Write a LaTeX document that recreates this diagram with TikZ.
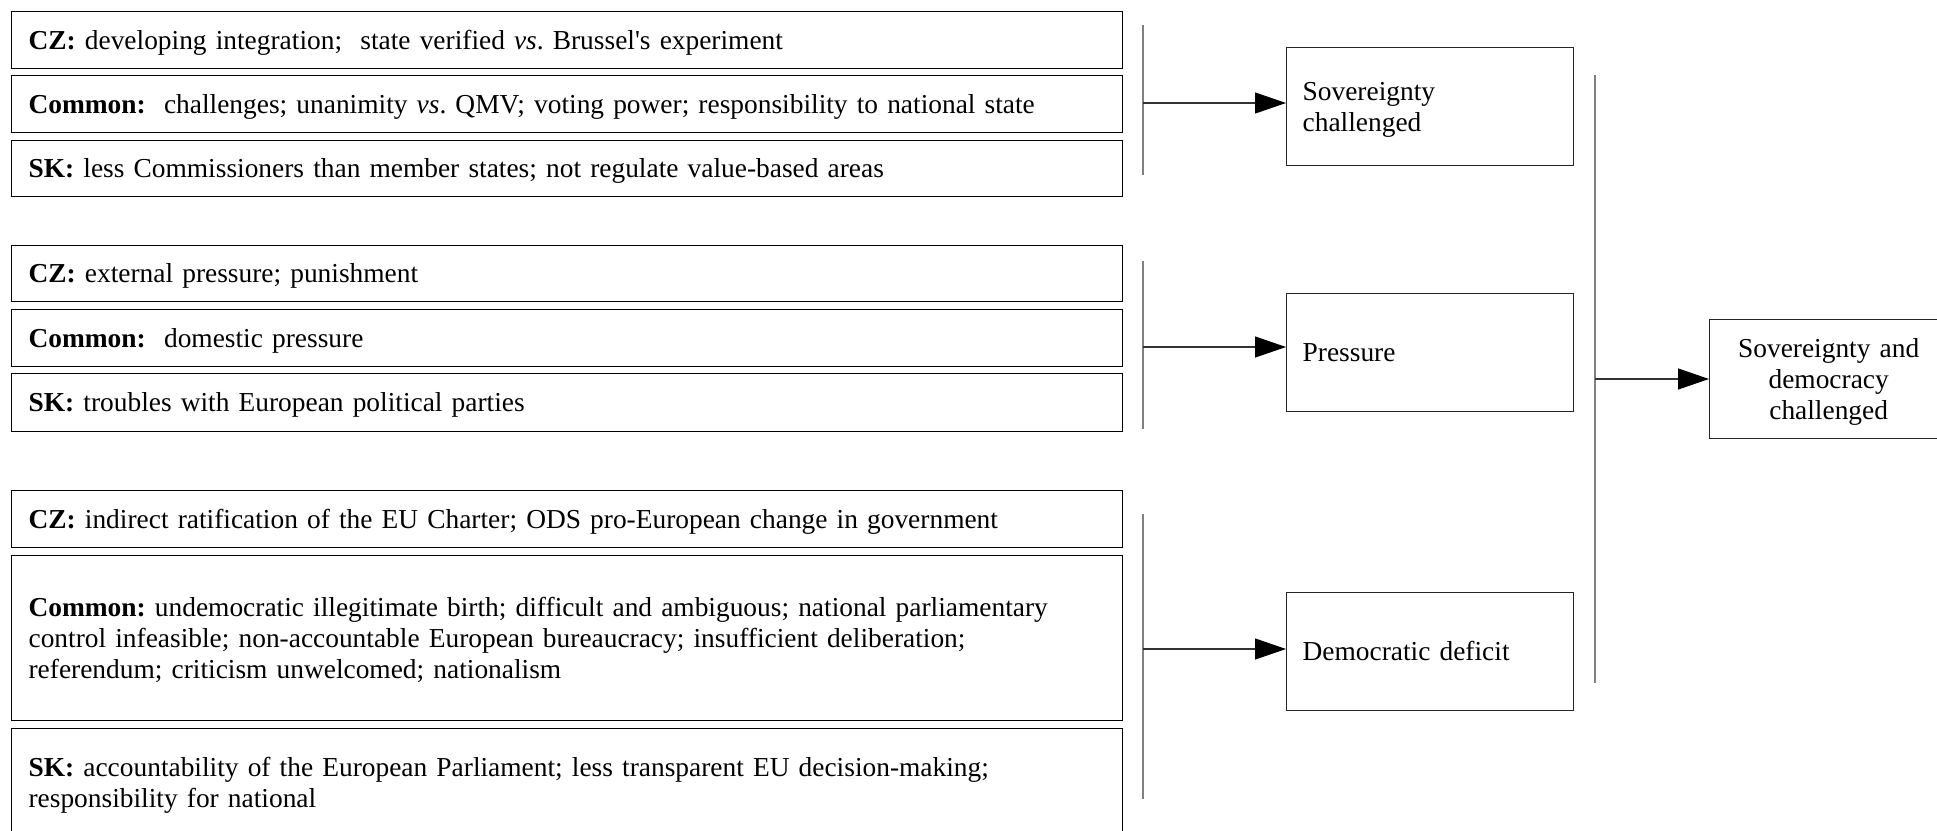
\documentclass[tikz,border=0pt]{standalone}
\usepackage{fontspec}
\setmainfont{Liberation Serif}
\usetikzlibrary{arrows.meta}
\frenchspacing
\newcommand{\topstrut}{\rule{0pt}{12.5pt}}
\newcommand{\botstrut}{\rule[-3.4pt]{0pt}{0pt}}
\tikzset{
  txt/.style={font=\fontsize{13.7}{15.6}\selectfont\frenchspacing,
    execute at begin node=\topstrut, execute at end node=\botstrut},
  lbox/.style={txt, draw=black, line width=0.6pt, rectangle, anchor=north west,
    minimum width=555.5pt, text width=538.5pt, inner xsep=8.5pt, inner ysep=0pt,
    align=left},
  mbox/.style={txt, draw=black!85, line width=0.65pt, rectangle, anchor=north west,
    minimum width=143.5pt, minimum height=59pt, text width=127.5pt, inner xsep=8pt,
    align=left},
  fbox/.style={txt, draw=black!85, line width=0.65pt, rectangle, anchor=north west,
    minimum width=119pt, minimum height=59.5pt, text width=111pt, inner xsep=4pt,
    align=center},
  brk/.style={draw=black!50, line width=1pt},
  arr/.style={draw=black!80, line width=0.6pt, -{Triangle[length=15.5pt,width=10.5pt,color=black,fill=black]}}
}
\begin{document}
\begin{tikzpicture}[x=0.5pt,y=-0.5pt]
\useasboundingbox (0,0) rectangle (1937,830);
\clip (0,0) rectangle (1937,830);
% group 1
\node[lbox, minimum height=28.5pt] (c1) at (11,11) {\textbf{CZ:} developing integration;\ \ state verified \textit{vs}. Brussel\textquotesingle s experiment};
\node[lbox, minimum height=28.5pt] (m1) at (11,75) {\textbf{Common:}\ \ challenges; unanimity \textit{vs}. QMV; voting power; responsibility to national state};
\node[lbox, minimum height=28pt] (s1) at (11,140) {\textbf{SK:} less Commissioners than member states; not regulate value-based areas};
% group 2
\node[lbox, minimum height=28pt] (c2) at (11,245) {\textbf{CZ:} external pressure; punishment};
\node[lbox, minimum height=28.5pt] (m2) at (11,309) {\textbf{Common:}\ \ domestic pressure};
\node[lbox, minimum height=29pt] (s2) at (11,373) {\textbf{SK:} troubles with European political parties};
% group 3
\node[lbox, minimum height=28.5pt] (c3) at (11,490) {\textbf{CZ:} indirect ratification of the EU Charter; ODS pro-European change in government};
\node[lbox, minimum height=82.5pt] (m3) at (11,555) {\textbf{Common:} undemocratic illegitimate birth; difficult and ambiguous; national parliamentary\\control infeasible; non-accountable European bureaucracy; insufficient deliberation;\\referendum; criticism unwelcomed; nationalism};
\node[lbox, minimum height=54pt] (s3) at (11,728) {\textbf{SK:} accountability of the European Parliament; less transparent EU decision-making;\\responsibility for national};
% middle boxes
\node[mbox] (sov) at (1286,47) {Sovereignty\\challenged};
\node[mbox] (pre) at (1286,293) {Pressure};
\node[mbox] (dem) at (1286,592) {Democratic deficit};
% final box
\node[fbox] (fin) at (1709,319) {Sovereignty and\\democracy\\challenged};
% brackets
\coordinate (g1t) at (1143,25);  \coordinate (g1b) at (1143,175); \coordinate (g1a) at (1143,103);
\coordinate (g2t) at (1143,261); \coordinate (g2b) at (1143,429); \coordinate (g2a) at (1143,347);
\coordinate (g3t) at (1143,514); \coordinate (g3b) at (1143,799); \coordinate (g3a) at (1143,649);
\coordinate (rt) at (1595,75);   \coordinate (rb) at (1595,683);  \coordinate (ra) at (1595,379);
\draw[brk] (g1t) -- (g1b);
\draw[brk] (g2t) -- (g2b);
\draw[brk] (g3t) -- (g3b);
\draw[brk] (rt) -- (rb);
\draw[arr] (g1a) -- (g1a -| sov.west);
\draw[arr] (g2a) -- (g2a -| pre.west);
\draw[arr] (g3a) -- (g3a -| dem.west);
\draw[arr] (ra) -- (ra -| fin.west);
\end{tikzpicture}
\end{document}
